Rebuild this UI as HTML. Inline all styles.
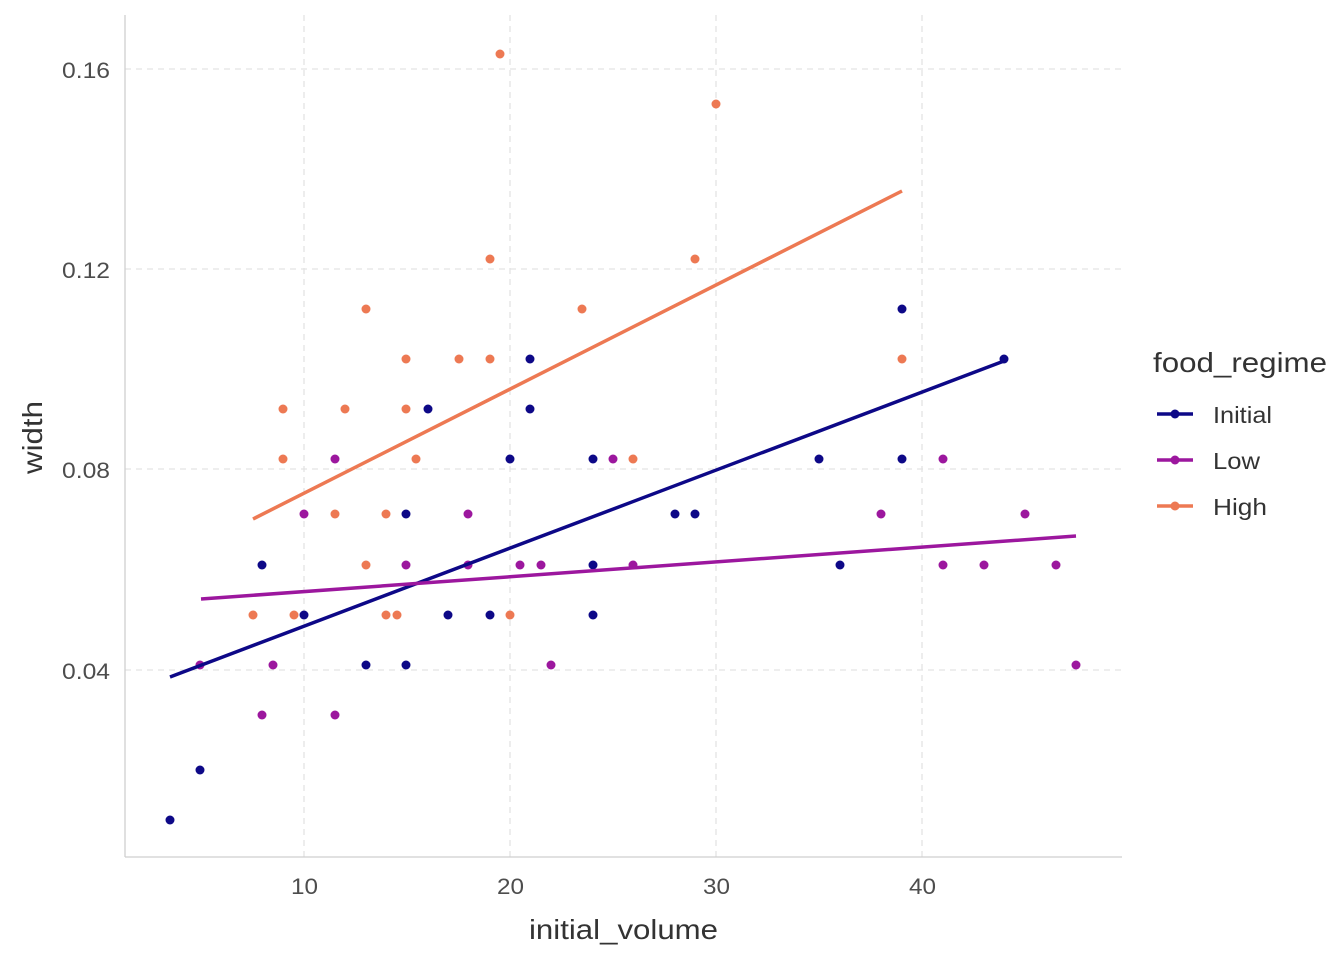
<!DOCTYPE html>
<html><head><style>body{margin:0;background:#fff}</style></head><body>
<svg width="1344" height="960" xmlns="http://www.w3.org/2000/svg" font-family="Liberation Sans, sans-serif">
<rect width="1344" height="960" fill="#fff"/>
<g stroke="#e3e3e3" stroke-width="1.3" stroke-dasharray="6,5">
<line x1="304" y1="15" x2="304" y2="857"/><line x1="510" y1="15" x2="510" y2="857"/><line x1="716" y1="15" x2="716" y2="857"/><line x1="922" y1="15" x2="922" y2="857"/>
<line x1="125" y1="69" x2="1122" y2="69"/><line x1="125" y1="269" x2="1122" y2="269"/><line x1="125" y1="469" x2="1122" y2="469"/><line x1="125" y1="670" x2="1122" y2="670"/>
</g>
<g stroke="#cfcfcf" stroke-width="1.3"><line x1="125" y1="15" x2="125" y2="857"/><line x1="125" y1="857" x2="1122" y2="857"/></g>
<g fill="#4d4d4d" font-size="22">
<text x="62" y="78" textLength="48" lengthAdjust="spacingAndGlyphs">0.16</text><text x="62" y="278" textLength="48" lengthAdjust="spacingAndGlyphs">0.12</text><text x="62" y="478" textLength="48" lengthAdjust="spacingAndGlyphs">0.08</text><text x="62" y="679" textLength="48" lengthAdjust="spacingAndGlyphs">0.04</text></g>
<g fill="#4d4d4d" font-size="22">
<text x="291" y="894" textLength="27" lengthAdjust="spacingAndGlyphs">10</text><text x="497" y="894" textLength="27" lengthAdjust="spacingAndGlyphs">20</text><text x="703" y="894" textLength="27" lengthAdjust="spacingAndGlyphs">30</text><text x="909" y="894" textLength="27" lengthAdjust="spacingAndGlyphs">40</text></g>
<text x="529" y="939" font-size="28" fill="#333" textLength="189" lengthAdjust="spacingAndGlyphs">initial_volume</text>
<text transform="translate(42,474) rotate(-90)" font-size="28" fill="#333" textLength="73" lengthAdjust="spacingAndGlyphs">width</text>
<g fill="#0d0887">
<circle cx="170" cy="820" r="4.5"/><circle cx="200" cy="770" r="4.5"/><circle cx="262" cy="565" r="4.5"/><circle cx="304" cy="615" r="4.5"/><circle cx="366" cy="665" r="4.5"/><circle cx="406" cy="665" r="4.5"/><circle cx="406" cy="514" r="4.5"/><circle cx="428" cy="409" r="4.5"/><circle cx="448" cy="615" r="4.5"/><circle cx="490" cy="615" r="4.5"/><circle cx="510" cy="459" r="4.5"/><circle cx="530" cy="359" r="4.5"/><circle cx="530" cy="409" r="4.5"/><circle cx="593" cy="459" r="4.5"/><circle cx="593" cy="565" r="4.5"/><circle cx="593" cy="615" r="4.5"/><circle cx="675" cy="514" r="4.5"/><circle cx="695" cy="514" r="4.5"/><circle cx="819" cy="459" r="4.5"/><circle cx="840" cy="565" r="4.5"/><circle cx="902" cy="309" r="4.5"/><circle cx="902" cy="459" r="4.5"/><circle cx="1004" cy="359" r="4.5"/></g>
<g fill="#9c179e">
<circle cx="200" cy="665" r="4.5"/><circle cx="262" cy="715" r="4.5"/><circle cx="273" cy="665" r="4.5"/><circle cx="304" cy="514" r="4.5"/><circle cx="335" cy="459" r="4.5"/><circle cx="335" cy="715" r="4.5"/><circle cx="406" cy="565" r="4.5"/><circle cx="468" cy="514" r="4.5"/><circle cx="468" cy="565" r="4.5"/><circle cx="520" cy="565" r="4.5"/><circle cx="541" cy="565" r="4.5"/><circle cx="551" cy="665" r="4.5"/><circle cx="613" cy="459" r="4.5"/><circle cx="633" cy="565" r="4.5"/><circle cx="881" cy="514" r="4.5"/><circle cx="943" cy="459" r="4.5"/><circle cx="943" cy="565" r="4.5"/><circle cx="984" cy="565" r="4.5"/><circle cx="1025" cy="514" r="4.5"/><circle cx="1056" cy="565" r="4.5"/><circle cx="1076" cy="665" r="4.5"/></g>
<g fill="#ed7953">
<circle cx="253" cy="615" r="4.5"/><circle cx="283" cy="409" r="4.5"/><circle cx="283" cy="459" r="4.5"/><circle cx="294" cy="615" r="4.5"/><circle cx="335" cy="514" r="4.5"/><circle cx="366" cy="309" r="4.5"/><circle cx="366" cy="565" r="4.5"/><circle cx="345" cy="409" r="4.5"/><circle cx="386" cy="514" r="4.5"/><circle cx="386" cy="615" r="4.5"/><circle cx="397" cy="615" r="4.5"/><circle cx="406" cy="359" r="4.5"/><circle cx="406" cy="409" r="4.5"/><circle cx="416" cy="459" r="4.5"/><circle cx="459" cy="359" r="4.5"/><circle cx="490" cy="259" r="4.5"/><circle cx="490" cy="359" r="4.5"/><circle cx="500" cy="54" r="4.5"/><circle cx="510" cy="615" r="4.5"/><circle cx="582" cy="309" r="4.5"/><circle cx="633" cy="459" r="4.5"/><circle cx="695" cy="259" r="4.5"/><circle cx="716" cy="104" r="4.5"/><circle cx="902" cy="359" r="4.5"/></g>
<g stroke-width="3.5" stroke-linecap="butt">
<line x1="170" y1="677" x2="1004" y2="361" stroke="#0d0887"/>
<line x1="201" y1="599" x2="1076" y2="536" stroke="#9c179e"/>
<line x1="253" y1="519" x2="902" y2="191" stroke="#ed7953"/>
</g>
<text x="1153" y="372" font-size="28" fill="#333" textLength="174" lengthAdjust="spacingAndGlyphs">food_regime</text>
<g stroke-width="3.5">
<line x1="1157" y1="414" x2="1193" y2="414" stroke="#0d0887"/><circle cx="1175" cy="414" r="4.5" fill="#0d0887"/>
<line x1="1157" y1="460" x2="1193" y2="460" stroke="#9c179e"/><circle cx="1175" cy="460" r="4.5" fill="#9c179e"/>
<line x1="1157" y1="506" x2="1193" y2="506" stroke="#ed7953"/><circle cx="1175" cy="506" r="4.5" fill="#ed7953"/>
</g>
<g font-size="23" fill="#333"><text x="1213" y="423" textLength="59" lengthAdjust="spacingAndGlyphs">Initial</text><text x="1213" y="469" textLength="47" lengthAdjust="spacingAndGlyphs">Low</text><text x="1213" y="515" textLength="54" lengthAdjust="spacingAndGlyphs">High</text></g>
</svg>
</body></html>
